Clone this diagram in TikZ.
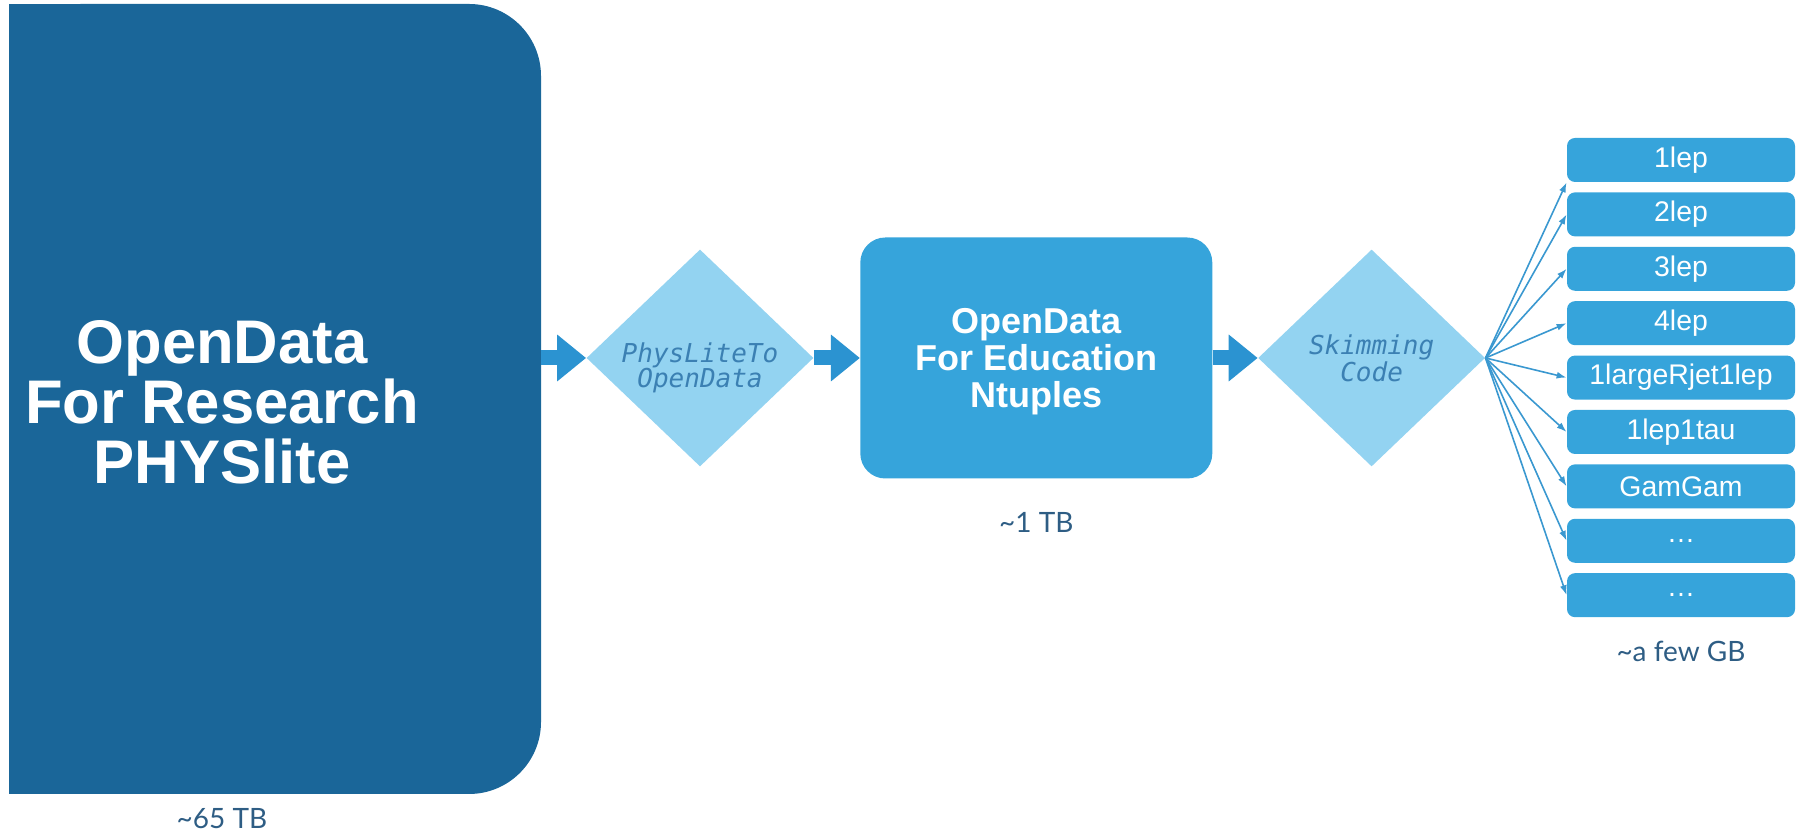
\documentclass[tikz,border=0pt]{standalone}
\usepackage{fontspec}
\setmainfont{Liberation Sans}
\newfontfamily\codefont{DejaVu Sans Mono}
\newfontfamily\sizefont{Lato}
\usetikzlibrary{arrows.meta,positioning,shapes.geometric}

\definecolor{researchblue}{HTML}{1A6699}
\definecolor{nodeblue}{HTML}{36A4DB}
\definecolor{codefill}{HTML}{93D3F1}
\definecolor{codetext}{HTML}{3B80B3}
\definecolor{flowblue}{HTML}{2B93D1}
\definecolor{fanblue}{HTML}{3A98D0}
\definecolor{sizetext}{HTML}{2E5D84}

\begin{document}
\begin{tikzpicture}[
  x=0.5pt, y=0.5pt,
  >=Latex,
  node distance=4.8pt,
  bigbox/.style={fill=researchblue, rounded corners=36pt, minimum width=266pt,
    minimum height=395pt, inner sep=0pt},
  bigtext/.style={text=white, align=center,
    font=\fontsize{30.8}{30}\selectfont\bfseries},
  ntuple/.style={fill=nodeblue, rounded corners=12.5pt, minimum width=176pt,
    minimum height=120.5pt, text=white, align=center, text depth=0pt,
    font=\fontsize{18}{18.5}\selectfont\bfseries},
  codestep/.style={diamond, aspect=1, fill=codefill, minimum width=113.5pt,
    minimum height=108.5pt, inner sep=0pt, text=codetext, align=center,
    font=\codefont\itshape\fontsize{13}{12.5}\selectfont},
  subset/.style={fill=nodeblue, rounded corners=4pt, minimum width=114pt,
    minimum height=22pt, inner sep=0pt, text=white,
    font=\fontsize{14.2}{14.2}\selectfont},
  sizelabel/.style={text=sizetext, inner sep=0pt,
    font=\sizefont\fontsize{14}{14}\selectfont},
  flow/.style={draw=flowblue, line width=7.5pt,
    -{Triangle[width=22.5pt,length=14.5pt]}},
  fan/.style={draw=fanblue, line width=0.8pt, -{Latex[length=5pt,width=3.5pt]}}
]
\useasboundingbox (0,0) rectangle (1804,833);

% big source box, square on the left
\node[bigbox] (research) at (275,434) {};
\fill[researchblue] (research.south west) rectangle ([xshift=100pt]research.north west);
\node[bigtext] (researchtext) at (222,431) {OpenData\\For Research\\PHYSlite};
\node[sizelabel] (size65) at (222,14) {\textasciitilde65 TB};

\node[codestep, text height=30pt, text depth=-6pt] (convert) at (700,475) {PhysLiteTo\\OpenData};
\node[ntuple, right=23pt of convert] (education) {OpenData\\For Education\\Ntuples};
\node[sizelabel, below=16.5pt of education] (size1) {\textasciitilde1 TB};
\node[codestep, right=22.5pt of education] (skimming) {Skimming\\Code};

% skimmed samples
\node[subset] (lep1) at (1681,673) {1lep};
\node[subset, below=of lep1] (lep2) {2lep};
\node[subset, below=of lep2] (lep3) {3lep};
\node[subset, below=of lep3] (lep4) {4lep};
\node[subset, below=of lep4] (largeR) {1largeRjet1lep};
\node[subset, below=of largeR] (leptau) {1lep1tau};
\node[subset, below=of leptau] (gamgam) {GamGam};
\node[subset, below=of gamgam] (more1) {\dots};
\node[subset, below=of more1] (more2) {\dots};
\node[sizelabel, below=11.5pt of more2] (sizegb) {\textasciitilde a few GB};

\draw[flow] (convert.west -| research.east) -- (convert.west);
\draw[flow] (convert.east) -- (convert.east -| education.west);
\draw[flow] (education.east) -- (skimming.west);

\draw[fan] (skimming.east) -- (lep1.south west);
\draw[fan] (skimming.east) -- (lep2.west);
\draw[fan] (skimming.east) -- (lep3.west);
\draw[fan] (skimming.east) -- (lep4.west);
\draw[fan] (skimming.east) -- (largeR.west);
\draw[fan] (skimming.east) -- (leptau.west);
\draw[fan] (skimming.east) -- (gamgam.west);
\draw[fan] (skimming.east) -- (more1.west);
\draw[fan] (skimming.east) -- (more2.west);
\end{tikzpicture}
\end{document}
